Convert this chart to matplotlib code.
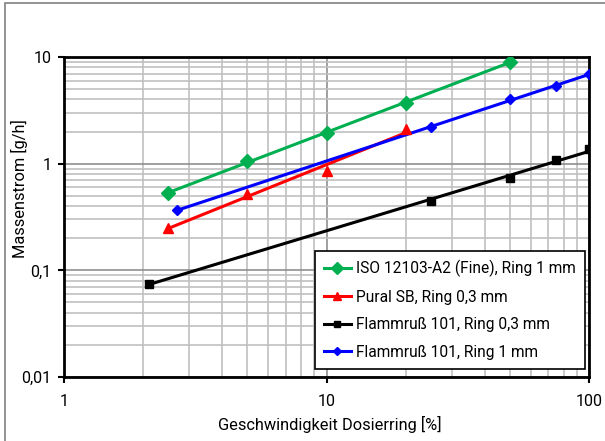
import numpy as np
import matplotlib
matplotlib.use("Agg")
import matplotlib.pyplot as plt
from matplotlib.ticker import FixedLocator, LogLocator, NullFormatter, FixedFormatter
from matplotlib.patches import Rectangle

plt.rcParams['font.family'] = ['Roboto', 'DejaVu Sans']

# Measured dosing data: ring speed [%] vs. mass flow [g/h]
iso_x = [2.5, 5, 10, 20, 50]
iso_y = [0.53, 1.06, 1.94, 3.7, 9.0]

pural_x = [2.5, 5, 10, 20]
pural_y = [0.25, 0.52, 0.85, 2.1]

flamm03_x = [2.1, 25, 50, 75, 100]
flamm03_y = [0.075, 0.45, 0.73, 1.08, 1.37]

flamm1_x = [2.7, 25, 50, 75, 100]
flamm1_y = [0.367, 2.19, 4.0, 5.34, 6.92]

labels = ["ISO 12103-A2 (Fine), Ring 1 mm",
          "Pural SB, Ring 0,3 mm",
          "Flammruß 101, Ring 0,3 mm",
          "Flammruß 101, Ring 1 mm"]

x_ticks = [1, 10, 100]
x_ticklabels = ["1", "10", "100"]
y_ticks = [0.01, 0.1, 1, 10]
y_ticklabels = ["0,01", "0,1", "1", "10"]

series = [
    (iso_x, iso_y, "#00b050", "D", 7),
    (pural_x, pural_y, "#ff0000", "^", 7),
    (flamm03_x, flamm03_y, "#000000", "s", 6),
    (flamm1_x, flamm1_y, "#0000ff", "D", 5.5),
]

fig = plt.figure(figsize=(6.05, 4.41), dpi=100)
fig.patches.append(Rectangle((5 / 605, -0.1), 1.2, 1.1 - 3 / 441,
                             transform=fig.transFigure, fill=False,
                             edgecolor="#808080", linewidth=1.2))
ax = fig.add_axes([64 / 605, 64 / 441, 525 / 605, 320 / 441])
ax.set_xscale("log")
ax.set_yscale("log")
ax.set_xlim(1, 100)
ax.set_ylim(0.01, 10)

handles = []
for xs, ys, col, mk, ms in series:
    xs_a = np.asarray(xs, float)
    ys_a = np.asarray(ys, float)
    # power-law trend line through the measurements
    k, d = np.polyfit(np.log10(xs_a), np.log10(ys_a), 1)
    xf = np.array([xs_a.min(), xs_a.max()])
    yf = 10 ** (k * np.log10(xf) + d)
    ax.plot(xf, yf, color=col, lw=2.2, zorder=3)
    ax.plot(xs_a, ys_a, ls="none", marker=mk, color=col, ms=ms, zorder=4)
    h, = ax.plot([], [], color=col, lw=2.2, marker=mk, ms=ms - 1)
    handles.append(h)

ax.xaxis.set_major_locator(FixedLocator(x_ticks))
ax.xaxis.set_major_formatter(FixedFormatter(x_ticklabels))
ax.yaxis.set_major_locator(FixedLocator(y_ticks))
ax.yaxis.set_major_formatter(FixedFormatter(y_ticklabels))
ax.xaxis.set_minor_locator(LogLocator(base=10, subs=np.arange(2, 10)))
ax.yaxis.set_minor_locator(LogLocator(base=10, subs=np.arange(2, 10)))
ax.xaxis.set_minor_formatter(NullFormatter())
ax.yaxis.set_minor_formatter(NullFormatter())

ax.grid(which="minor", color="#c0c0c0", lw=1.2, zorder=0)
ax.grid(which="major", color="#909090", lw=1.2, zorder=0)
ax.set_axisbelow(True)
ax.tick_params(which="minor", length=0)
ax.tick_params(which="major", length=4, width=1.5, direction="out",
               labelsize=11.5, colors="black")
ax.tick_params(axis="x", pad=8)
ax.tick_params(axis="y", pad=5)
for s in ax.spines.values():
    s.set_linewidth(2)
    s.set_color("black")

ax.set_xlabel("Geschwindigkeit Dosierring [%]", fontsize=11.8)
ax.xaxis.set_label_coords((330 - 64) / 525, -0.122)
ax.set_ylabel("Massenstrom [g/h]", fontsize=11.8)
ax.yaxis.set_label_coords((28 - 64) / 525, 0.59)

leg = ax.legend(handles, labels, loc="lower right",
                bbox_to_anchor=(0.9925, 0.025), fontsize=11.2,
                frameon=True, fancybox=False, framealpha=1,
                edgecolor="black", handlelength=1.7, handletextpad=0.35,
                borderpad=0.6, labelspacing=0.8, borderaxespad=0)
leg.get_frame().set_linewidth(1.2)

fig.savefig("out.png", dpi=100)
